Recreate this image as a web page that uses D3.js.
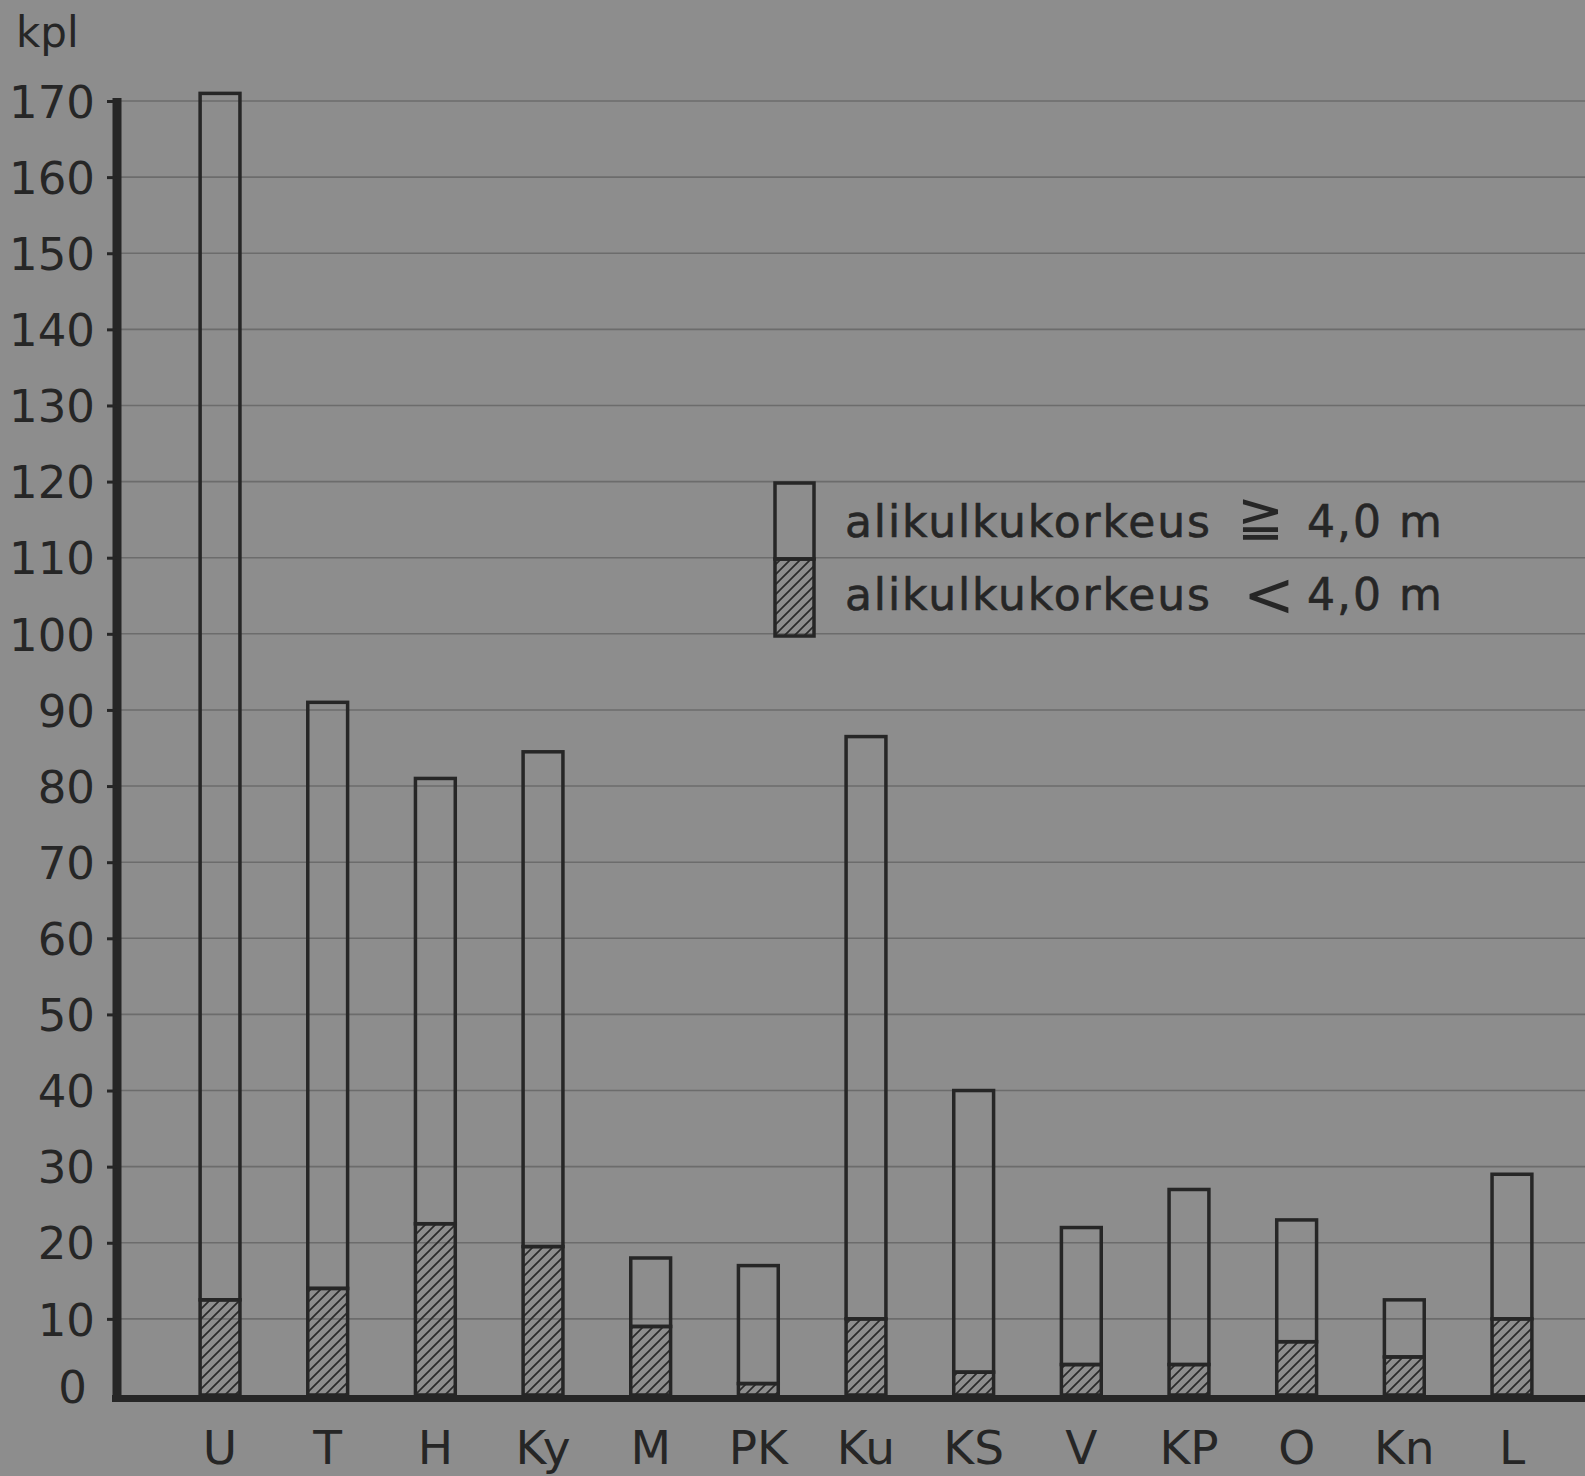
<!DOCTYPE html>
<html>
<head>
<meta charset="utf-8">
<script src="https://cdn.jsdelivr.net/npm/d3@7"></script>
<style>
  html, body { margin: 0; padding: 0; background: #8d8d8d; }
  svg { display: block; }
  text { font-family: "DejaVu Sans", sans-serif; fill: #262626; }
</style>
</head>
<body>
<script>
// ---- data ----
const categories = ["U", "T", "H", "Ky", "M", "PK", "Ku", "KS", "V", "KP", "O", "Kn", "L"];
// bridges with clearance < 4.0 m (hatched)
const lowValues = [12.5, 14, 22.5, 19.5, 9, 1.5, 10, 3, 4, 4, 7, 5, 10];
// bridges with clearance >= 4.0 m (open, stacked on top)
const highValues = [158.5, 77, 58.5, 65, 9, 15.5, 76.5, 37, 18, 23, 16, 7.5, 19];
const yTicks = [0, 10, 20, 30, 40, 50, 60, 70, 80, 90, 100, 110, 120, 130, 140, 150, 160, 170];
const yUnit = "kpl";
const legendLabels = ["alikulkukorkeus", "alikulkukorkeus"];
const legendSymbols = ["≧", "<"];
const legendValues = ["4,0 m", "4,0 m"];

// ---- setup ----
const W = 1585, H = 1476;
const ink = "#262626";
const svg = d3.select("body").append("svg").attr("width", W).attr("height", H);

const defs = svg.append("defs");
const pat = defs.append("pattern")
  .attr("id", "hatch").attr("patternUnits", "userSpaceOnUse")
  .attr("width", 10).attr("height", 10);
pat.append("path")
  .attr("d", "M0,10 L10,0 M-2,2 L2,-2 M8,12 L12,8")
  .attr("stroke", "#2a2a2a").attr("stroke-width", 1.7);

const axisX = 117;
const y = d3.scaleLinear().domain([0, 170]).range([1395, 101]);
const x = d3.scaleBand().domain(categories).range([166.2, 1565.8])
  .paddingInner(0.63).paddingOuter(0.315);

// gridlines
svg.append("g").selectAll("line")
  .data(yTicks.filter(d => d > 0))
  .join("line")
  .attr("x1", axisX).attr("x2", W)
  .attr("y1", d => y(d)).attr("y2", d => y(d))
  .attr("stroke", "#6c6c6c").attr("stroke-width", 1.6);

// stacked data
const table = categories.map((c, i) => ({ cat: c, low: lowValues[i], high: highValues[i] }));
const stacked = d3.stack().keys(["low", "high"])(table);

const barG = svg.append("g");
// open (>= 4.0 m) segments
barG.selectAll("rect.high")
  .data(stacked[1])
  .join("rect").attr("class", "high")
  .attr("x", d => x(d.data.cat))
  .attr("width", x.bandwidth())
  .attr("y", d => y(d[1]))
  .attr("height", d => y(d[0]) - y(d[1]))
  .attr("fill", "none")
  .attr("stroke", ink).attr("stroke-width", 3.5);
// hatched (< 4.0 m) segments
barG.selectAll("rect.low")
  .data(stacked[0])
  .join("rect").attr("class", "low")
  .attr("x", d => x(d.data.cat))
  .attr("width", x.bandwidth())
  .attr("y", d => y(d[1]))
  .attr("height", d => y(d[0]) - y(d[1]))
  .attr("fill", "url(#hatch)")
  .attr("stroke", ink).attr("stroke-width", 3.5);

// y axis
const yAxis = d3.axisLeft(y).tickValues(yTicks).tickSize(10).tickSizeOuter(0).tickPadding(12);
const ga = svg.append("g").attr("transform", `translate(${axisX},0)`).call(yAxis);
ga.select(".domain").attr("stroke", ink).attr("stroke-width", 9)
  .attr("d", `M0,${y(170) - 3}V${y(0) + 6}`);
ga.selectAll(".tick line").attr("stroke", ink).attr("stroke-width", 3);
ga.selectAll(".tick").filter(d => d === 0).select("line").remove();
ga.selectAll(".tick text")
  .attr("font-family", "DejaVu Sans, sans-serif")
  .attr("font-size", 45).attr("fill", ink)
  .attr("dy", "0.36em");
ga.selectAll(".tick").filter(d => d === 0).select("text").attr("dy", "0.16em").attr("x", -30);

// baseline (x axis)
svg.append("line")
  .attr("x1", axisX - 5).attr("x2", W)
  .attr("y1", y(0) + 3.5).attr("y2", y(0) + 3.5)
  .attr("stroke", ink).attr("stroke-width", 7);

// x labels
svg.append("g").selectAll("text")
  .data(categories)
  .join("text")
  .attr("x", d => x(d) + x.bandwidth() / 2)
  .attr("y", 1464)
  .attr("text-anchor", "middle")
  .attr("font-size", 47)
  .text(d => d);

// unit label
svg.append("text").attr("x", 16).attr("y", 47).attr("font-size", 42).text(yUnit);

// legend
const lg = svg.append("g");
lg.append("rect").attr("x", 775).attr("y", 483).attr("width", 39).attr("height", 76)
  .attr("fill", "none").attr("stroke", ink).attr("stroke-width", 3.5);
lg.append("rect").attr("x", 775).attr("y", 559).attr("width", 39).attr("height", 77)
  .attr("fill", "url(#hatch)").attr("stroke", ink).attr("stroke-width", 3.5);
const baselines = [537, 610];
legendLabels.forEach((t, i) => {
  lg.append("text").attr("x", 845).attr("y", baselines[i])
    .attr("font-size", 44).attr("letter-spacing", 1.9)
    .attr("stroke", ink).attr("stroke-width", 0.6).text(t);
  lg.append("text").attr("x", i === 0 ? 1237 : 1243).attr("y", baselines[i] + (i === 0 ? -2 : 6))
    .attr("font-size", i === 0 ? 56 : 62).text(legendSymbols[i]);
  lg.append("text").attr("x", 1307).attr("y", baselines[i])
    .attr("font-size", 44).attr("letter-spacing", 2)
    .attr("stroke", ink).attr("stroke-width", 0.6).text(legendValues[i]);
});
</script>
</body>
</html>
